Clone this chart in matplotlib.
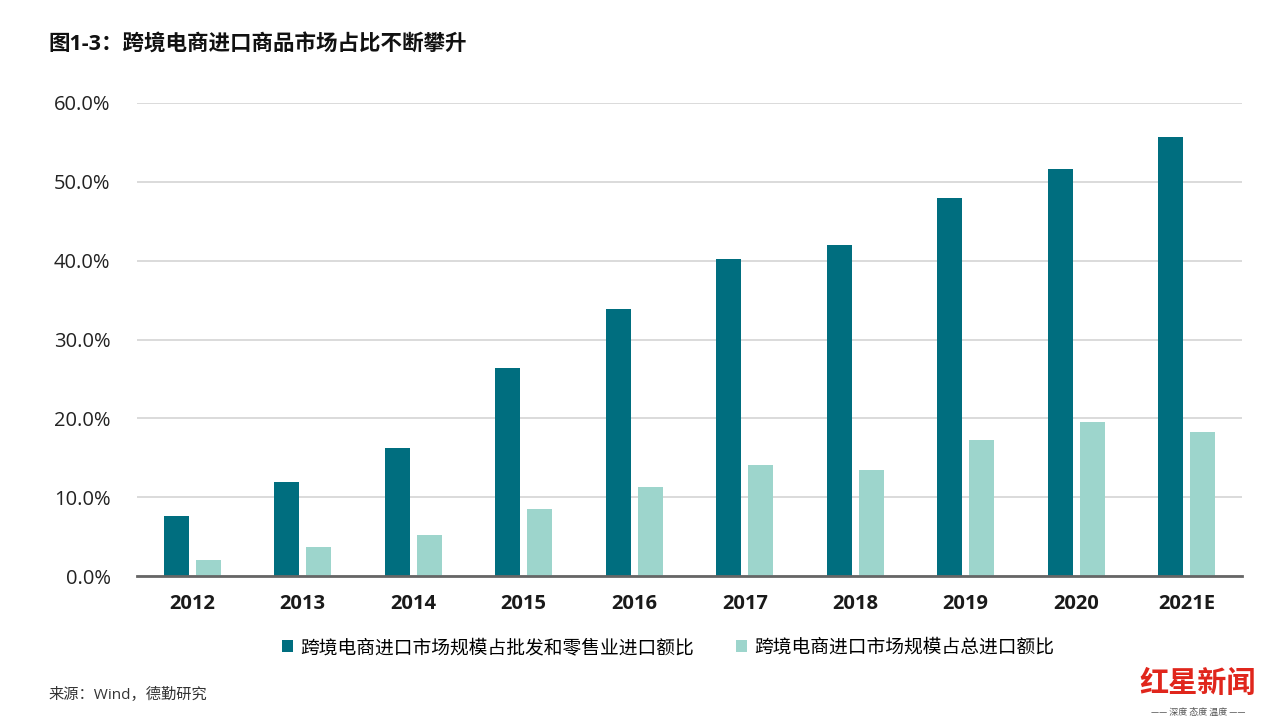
import matplotlib
matplotlib.use("Agg")
import matplotlib.pyplot as plt
import numpy as np

plt.rcParams['font.family'] = ['Open Sans', 'Noto Sans CJK SC', 'DejaVu Sans']

categories = ['2012', '2013', '2014', '2015', '2016', '2017', '2018', '2019', '2020', '2021E']
share_wholesale_retail = [7.6, 11.9, 16.2, 26.4, 33.9, 40.2, 42.0, 48.0, 51.6, 55.7]
share_total_import = [2.0, 3.7, 5.2, 8.5, 11.3, 14.1, 13.5, 17.3, 19.5, 18.3]
series_names = ['跨境电商进口市场规模占批发和零售业进口额比', '跨境电商进口市场规模占总进口额比']
yticks = [0, 10, 20, 30, 40, 50, 60]

dark = '#006E7F'
light = '#9DD5CC'

fig = plt.figure(figsize=(12.70, 7.28), dpi=100)
ax = fig.add_axes([137/1270, 1-576/728, (1242-137)/1270, (576-103)/728])

x = np.arange(len(categories))
w = 0.225
off = 0.145
ax.bar(x - off, share_wholesale_retail, w, color=dark, zorder=3, label=series_names[0])
ax.bar(x + off, share_total_import, w, color=light, zorder=3, label=series_names[1])

ax.set_xlim(-0.5, len(categories) - 0.5)
ax.set_ylim(0, 60)
ax.set_yticks(yticks)
ax.set_yticklabels([f'{v:.1f}%' for v in yticks], fontsize=14.5, color='#222222')
ax.set_xticks(x)
ax.set_xticklabels(categories, fontsize=14.5, fontweight='bold', color='#1a1a1a')
ax.tick_params(axis='both', length=0)
ax.tick_params(axis='y', pad=19)
ax.tick_params(axis='x', pad=13)
ax.yaxis.grid(True, color='#d4d4d4', linewidth=1.2, zorder=0)
for s in ['top', 'right', 'left']:
    ax.spines[s].set_visible(False)
ax.spines['bottom'].set_color('#666666')
ax.spines['bottom'].set_linewidth(2)
ax.spines['bottom'].set_zorder(4)

fig.legend(loc='center', bbox_to_anchor=(668/1270, 1-648/728), ncol=2, frameon=False,
           handlelength=0.6, handleheight=0.6, handletextpad=0.4,
           columnspacing=2.2, prop={'size': 13.5})

fig.text(48/1270, 1-45/728, '图1-3：跨境电商进口商品市场占比不断攀升', fontsize=15.5,
         fontweight='bold', ha='left', va='center', color='#111111')
fig.text(48/1270, 1-695/728, '来源：Wind，德勤研究', fontsize=11, ha='left', va='center',
         color='#333333')

# watermark
fig.text(1198/1270, 1-683/728, '红星新闻', fontsize=21, fontweight='bold', ha='center',
         va='center', color='#E0261C', family=['Noto Sans CJK SC'])
fig.text(1198/1270, 1-712/728, '—— 深度 态度 温度 ——', fontsize=6.5, ha='center',
         va='center', color='#555555', family=['Noto Sans CJK SC'])

fig.savefig('out.png', dpi=100, facecolor='white')
